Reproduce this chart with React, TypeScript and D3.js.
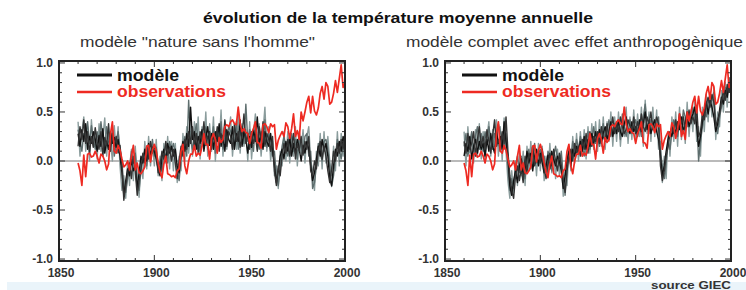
import React from "react";
import * as d3 from "d3";

const START_YEAR = 1860;

const title = "évolution de la température moyenne annuelle";
const panelTitles = ["modèle \"nature sans l'homme\"", "modèle complet avec effet anthropogènique"];
const legendLabels = ["modèle", "observations"];
const sourceLabel = "source  GIEC";
const xTicks = [1850, 1900, 1950, 2000];
const yTicks = [-1.0, -0.5, 0.0, 0.5, 1.0];

// observed anomalies, 1860..2000
const observations = [
  -0.02, -0.10, -0.25, 0.06, -0.16, 0.07, 0.08, 0.04, 0.05, 0.10,
  0.05, -0.02, 0.07, 0.05, 0.00, -0.09, -0.03, 0.28, 0.40, 0.10,
  0.08, 0.16, 0.11, 0.02, -0.06, -0.04, 0.00, -0.09, 0.05, 0.16,
  -0.09, -0.02, -0.12, -0.13, -0.10, -0.06, 0.15, 0.16, -0.01, 0.11,
  0.17, 0.10, -0.02, -0.11, -0.17, -0.03, 0.05, -0.13, -0.14, -0.16,
  -0.15, -0.17, -0.10, -0.08, 0.10, 0.17, -0.05, -0.13, 0.00, 0.07,
  0.07, 0.16, 0.05, 0.08, 0.06, 0.15, 0.28, 0.17, 0.17, 0.02,
  0.23, 0.28, 0.22, 0.08, 0.24, 0.19, 0.22, 0.35, 0.37, 0.35,
  0.40, 0.42, 0.38, 0.37, 0.55, 0.38, 0.30, 0.33, 0.29, 0.28,
  0.18, 0.28, 0.33, 0.40, 0.19, 0.18, 0.13, 0.37, 0.38, 0.35,
  0.29, 0.38, 0.35, 0.37, 0.12, 0.21, 0.26, 0.30, 0.25, 0.39,
  0.35, 0.23, 0.33, 0.48, 0.25, 0.31, 0.22, 0.50, 0.41, 0.50,
  0.60, 0.66, 0.49, 0.66, 0.51, 0.47, 0.54, 0.69, 0.76, 0.63,
  0.80, 0.76, 0.58, 0.60, 0.69, 0.82, 0.70, 0.84, 0.98, 0.75,
  0.80,
];

// natural-forcing-only model runs
const naturalRunA = [
  0.28, 0.15, 0.32, 0.20, 0.38, 0.12, 0.25, 0.18, 0.30, 0.22,
  0.10, 0.26, 0.15, 0.33, 0.08, 0.20, 0.12, 0.29, 0.18, 0.24,
  0.14, 0.22, 0.05, -0.12, -0.35, -0.20, -0.08, -0.15, 0.02, -0.10,
  -0.05, -0.28, -0.12, 0.05, -0.02, 0.12, 0.00, 0.18, 0.06, 0.14,
  0.10, 0.02, -0.08, -0.15, 0.04, 0.12, 0.00, 0.18, 0.08, 0.15,
  0.05, 0.12, -0.05, -0.12, 0.08, 0.20, 0.10, 0.28, 0.15, 0.55,
  0.22, 0.30, 0.12, 0.25, 0.18, 0.32, 0.10, 0.24, 0.35, 0.16,
  0.28, 0.12, 0.30, 0.20, 0.38, 0.15, 0.26, 0.10, 0.32, 0.22,
  0.18, 0.35, 0.12, 0.28, 0.20, 0.42, 0.15, 0.30, 0.22, 0.08,
  0.25, 0.14, 0.32, 0.20, 0.45, 0.18, 0.26, 0.12, 0.30, 0.20,
  0.15, 0.28, 0.10, -0.05, -0.22, -0.10, 0.05, 0.12, 0.02, 0.20,
  0.10, 0.25, 0.05, 0.18, 0.08, 0.22, 0.12, 0.00, 0.16, 0.08,
  0.20, 0.12, -0.05, -0.20, -0.12, 0.02, 0.15, 0.05, 0.22, 0.10,
  0.18, 0.05, -0.18, -0.25, -0.05, 0.12, 0.05, 0.20, 0.10, 0.25,
  0.15,
];
const naturalRunB = [
  0.15, 0.35, 0.22, 0.42, 0.18, 0.30, 0.08, 0.25, 0.14, 0.34,
  0.20, 0.12, 0.30, 0.05, 0.24, 0.16, 0.38, 0.10, 0.28, 0.15,
  0.25, 0.08, 0.16, -0.05, -0.40, -0.25, -0.12, -0.02, -0.18, 0.05,
  -0.10, -0.35, -0.20, -0.08, 0.08, -0.02, 0.15, 0.02, 0.20, 0.08,
  0.16, 0.05, -0.12, -0.05, 0.10, 0.02, 0.20, 0.06, 0.14, 0.00,
  0.12, -0.02, -0.18, 0.00, 0.15, 0.05, 0.22, 0.12, 0.30, 0.18,
  0.35, 0.15, 0.28, 0.08, 0.30, 0.20, 0.40, 0.16, 0.25, 0.30,
  0.12, 0.26, 0.18, 0.35, 0.10, 0.28, 0.20, 0.42, 0.15, 0.30,
  0.25, 0.12, 0.38, 0.20, 0.30, 0.14, 0.26, 0.48, 0.18, 0.28,
  0.12, 0.30, 0.18, 0.26, 0.10, 0.35, 0.22, 0.40, 0.15, 0.28,
  0.22, 0.10, 0.25, -0.10, -0.25, -0.05, -0.15, 0.05, 0.18, 0.08,
  0.22, 0.05, 0.15, 0.28, 0.02, 0.18, 0.10, 0.25, 0.06, 0.20,
  0.12, 0.25, -0.10, -0.15, 0.00, -0.08, 0.10, 0.20, 0.02, 0.15,
  0.05, -0.10, -0.22, -0.08, 0.10, 0.00, 0.18, 0.08, 0.22, 0.12,
  0.28,
];
const naturalRunC = [
  0.32, 0.20, 0.10, 0.28, 0.25, 0.40, 0.18, 0.36, 0.22, 0.12,
  0.30, 0.18, 0.40, 0.22, 0.12, 0.35, 0.20, 0.15, 0.32, 0.05,
  0.18, 0.30, 0.12, 0.00, -0.28, -0.32, -0.18, -0.05, 0.10, -0.02,
  0.08, -0.20, -0.30, -0.10, 0.02, 0.10, -0.05, 0.12, 0.00, 0.22,
  0.05, 0.14, -0.05, 0.00, -0.10, 0.08, 0.16, -0.02, 0.20, 0.10,
  0.18, 0.08, -0.10, -0.20, 0.02, 0.12, 0.25, 0.05, 0.62, 0.22,
  0.12, 0.25, 0.38, 0.18, 0.10, 0.28, 0.22, 0.35, 0.12, 0.26,
  0.20, 0.35, 0.08, 0.26, 0.22, 0.40, 0.12, 0.28, 0.18, 0.36,
  0.30, 0.22, 0.15, 0.40, 0.12, 0.26, 0.35, 0.18, 0.58, 0.20,
  0.32, 0.22, 0.10, 0.38, 0.25, 0.12, 0.30, 0.20, 0.42, 0.14,
  0.28, 0.18, 0.05, 0.10, -0.15, -0.25, -0.08, 0.15, 0.25, 0.12,
  0.05, 0.18, 0.28, 0.10, 0.22, 0.02, 0.30, 0.15, 0.08, 0.25,
  0.28, 0.05, 0.10, -0.28, -0.22, -0.05, 0.18, 0.08, 0.00, 0.20,
  0.22, 0.12, -0.05, -0.26, -0.15, 0.05, 0.22, 0.12, 0.02, 0.18,
  0.20,
];
const naturalRunD = [
  0.40, 0.05, 0.30, 0.45, 0.10, 0.35, 0.00, 0.42, 0.15, 0.30,
  0.02, 0.38, 0.10, 0.25, 0.44, 0.05, 0.30, 0.20, 0.00, 0.36,
  0.10, 0.35, -0.05, -0.30, -0.15, -0.38, 0.00, -0.25, 0.12, -0.20,
  0.15, -0.15, -0.37, 0.00, -0.18, 0.20, -0.08, 0.25, -0.05, 0.18,
  -0.05, 0.22, -0.15, 0.05, -0.20, 0.18, -0.02, 0.25, -0.08, 0.20,
  -0.10, 0.18, -0.22, 0.05, -0.10, 0.28, 0.00, 0.35, 0.08, 0.30,
  0.05, 0.40, 0.15, 0.45, 0.02, 0.35, 0.18, 0.50, 0.05, 0.38,
  0.10, 0.45, 0.00, 0.30, 0.15, 0.52, 0.05, 0.40, 0.12, 0.28,
  0.45, 0.05, 0.30, 0.12, 0.50, 0.08, 0.38, 0.15, 0.32, 0.00,
  0.40, 0.02, 0.28, 0.48, 0.12, 0.38, 0.05, 0.30, 0.55, 0.10,
  0.35, 0.00, 0.20, -0.15, -0.05, -0.28, 0.10, -0.05, 0.30, 0.00,
  0.30, -0.02, 0.25, 0.05, 0.35, -0.05, 0.22, 0.08, 0.32, -0.02,
  0.25, 0.35, 0.00, -0.10, -0.30, 0.10, -0.05, 0.28, -0.08, 0.30,
  -0.02, 0.25, 0.00, -0.15, 0.15, -0.10, 0.30, -0.05, 0.28, 0.05,
  0.30,
];

// natural + anthropogenic model runs
const fullRunA = [
  0.05, 0.18, 0.10, 0.25, 0.02, 0.15, 0.22, 0.08, 0.20, 0.12,
  0.18, 0.05, 0.22, 0.10, 0.28, 0.15, 0.08, 0.30, 0.18, 0.25,
  0.12, 0.40, 0.20, 0.05, -0.25, -0.35, -0.20, -0.10, -0.22, -0.05,
  0.02, -0.15, -0.08, 0.10, -0.02, 0.08, -0.10, 0.05, 0.12, -0.05,
  0.08, -0.02, -0.12, -0.05, 0.06, -0.08, 0.10, 0.02, -0.05, 0.05,
  0.00, -0.10, -0.28, -0.15, 0.02, 0.10, -0.05, 0.12, 0.05, 0.15,
  0.08, 0.20, 0.10, 0.25, 0.12, 0.22, 0.15, 0.28, 0.18, 0.30,
  0.20, 0.32, 0.18, 0.28, 0.35, 0.22, 0.30, 0.40, 0.25, 0.35,
  0.28, 0.42, 0.30, 0.25, 0.38, 0.45, 0.32, 0.28, 0.40, 0.30,
  0.35, 0.25, 0.42, 0.30, 0.38, 0.50, 0.32, 0.40, 0.28, 0.36,
  0.42, 0.30, 0.22, 0.05, -0.15, -0.05, 0.10, 0.22, 0.30, 0.25,
  0.35, 0.28, 0.40, 0.32, 0.45, 0.30, 0.38, 0.50, 0.35, 0.42,
  0.48, 0.55, 0.35, 0.15, 0.25, 0.40, 0.52, 0.60, 0.48, 0.62,
  0.55, 0.45, 0.30, 0.38, 0.52, 0.65, 0.58, 0.72, 0.65, 0.80,
  0.75,
];
const fullRunB = [
  0.20, 0.08, 0.28, 0.12, 0.18, 0.30, 0.05, 0.22, 0.35, 0.15,
  0.25, 0.12, 0.32, 0.20, 0.08, 0.26, 0.42, 0.15, 0.22, 0.10,
  0.30, 0.18, 0.45, 0.10, -0.15, -0.30, -0.38, -0.15, -0.05, -0.20,
  -0.08, -0.22, 0.05, -0.12, 0.08, 0.00, 0.15, -0.05, 0.02, 0.10,
  -0.02, 0.12, -0.08, -0.18, -0.02, 0.08, -0.05, 0.12, 0.00, -0.10,
  0.08, -0.05, -0.20, -0.32, -0.10, 0.05, 0.12, 0.00, 0.18, 0.08,
  0.15, 0.05, 0.22, 0.12, 0.28, 0.08, 0.30, 0.15, 0.25, 0.20,
  0.30, 0.18, 0.35, 0.25, 0.20, 0.38, 0.22, 0.32, 0.45, 0.28,
  0.38, 0.30, 0.45, 0.35, 0.28, 0.32, 0.42, 0.36, 0.30, 0.45,
  0.28, 0.40, 0.32, 0.48, 0.35, 0.30, 0.45, 0.38, 0.50, 0.32,
  0.35, 0.45, 0.38, -0.05, -0.20, -0.10, 0.05, 0.15, 0.28, 0.35,
  0.28, 0.42, 0.30, 0.48, 0.38, 0.45, 0.32, 0.40, 0.52, 0.38,
  0.45, 0.38, 0.55, 0.25, 0.30, 0.48, 0.42, 0.58, 0.65, 0.55,
  0.68, 0.60, 0.35, 0.42, 0.48, 0.60, 0.72, 0.62, 0.78, 0.70,
  0.82,
];
const fullRunC = [
  0.15, 0.28, 0.05, 0.18, 0.30, 0.10, 0.25, 0.35, 0.12, 0.28,
  0.10, 0.30, 0.18, 0.35, 0.22, 0.12, 0.28, 0.20, 0.38, 0.30,
  0.22, 0.12, 0.28, -0.05, -0.30, -0.18, -0.28, -0.05, 0.05, -0.12,
  0.05, -0.05, -0.18, 0.02, 0.12, -0.08, 0.05, 0.18, -0.02, 0.08,
  0.12, 0.00, 0.05, -0.12, 0.10, 0.02, -0.10, 0.05, 0.15, 0.02,
  -0.05, 0.10, -0.15, -0.35, -0.05, 0.15, 0.02, 0.20, 0.10, 0.22,
  0.12, 0.25, 0.15, 0.05, 0.20, 0.30, 0.12, 0.22, 0.35, 0.18,
  0.25, 0.15, 0.28, 0.38, 0.20, 0.30, 0.42, 0.25, 0.32, 0.38,
  0.32, 0.40, 0.22, 0.48, 0.35, 0.25, 0.38, 0.42, 0.28, 0.36,
  0.42, 0.30, 0.38, 0.25, 0.45, 0.58, 0.35, 0.28, 0.42, 0.40,
  0.30, 0.38, 0.45, 0.10, -0.05, -0.18, -0.02, 0.20, 0.12, 0.30,
  0.42, 0.35, 0.25, 0.40, 0.30, 0.52, 0.45, 0.35, 0.48, 0.40,
  0.55, 0.42, 0.48, 0.00, 0.20, 0.35, 0.50, 0.45, 0.62, 0.58,
  0.62, 0.70, 0.40, 0.28, 0.45, 0.55, 0.65, 0.75, 0.68, 0.85,
  0.78,
];
const fullRunD = [
  0.30, -0.05, 0.35, 0.08, 0.28, -0.02, 0.32, 0.05, 0.38, 0.02,
  0.30, 0.00, 0.25, 0.40, 0.05, 0.32, 0.15, 0.42, 0.05, 0.35,
  0.00, 0.44, 0.10, -0.20, -0.38, -0.10, -0.32, 0.00, -0.25, 0.08,
  -0.15, 0.10, -0.25, 0.15, -0.10, 0.20, -0.05, 0.12, -0.15, 0.18,
  -0.10, 0.15, -0.20, 0.05, -0.15, 0.18, -0.12, 0.08, -0.18, 0.12,
  -0.15, 0.05, -0.36, -0.08, -0.25, 0.12, -0.10, 0.25, -0.02, 0.28,
  0.00, 0.30, 0.05, 0.32, 0.02, 0.35, 0.08, 0.38, 0.12, 0.40,
  0.10, 0.42, 0.15, 0.45, 0.12, 0.40, 0.20, 0.50, 0.15, 0.45,
  0.20, 0.50, 0.15, 0.42, 0.25, 0.55, 0.18, 0.45, 0.22, 0.52,
  0.20, 0.48, 0.25, 0.55, 0.15, 0.62, 0.28, 0.50, 0.20, 0.55,
  0.25, 0.52, 0.12, 0.20, -0.22, 0.05, -0.18, 0.30, 0.05, 0.45,
  0.20, 0.50, 0.15, 0.55, 0.22, 0.48, 0.18, 0.60, 0.25, 0.52,
  0.30, 0.62, 0.20, 0.35, 0.05, 0.55, 0.30, 0.68, 0.40, 0.70,
  0.45, 0.75, 0.22, 0.50, 0.35, 0.72, 0.50, 0.80, 0.55, 0.85,
  0.68,
];

const naturalRuns = [naturalRunD, naturalRunC, naturalRunA, naturalRunB];
const fullRuns = [fullRunD, fullRunC, fullRunA, fullRunB];
const runColors = ["#8a9c9c", "#5e6e6e", "#111", "#333"];
const RED = "#ee2a22";
const FONT = "Liberation Sans, Arial, Helvetica, sans-serif";

type PanelProps = {
  x0: number;
  x1: number;
  runs: number[][];
  subtitle: string;
  subtitleX: number;
  subtitleW: number;
  legendX: number;
};

const Y_TOP = 61;
const Y_BOT = 261;

function Panel({ x0, x1, runs, subtitle, subtitleX, subtitleW, legendX }: PanelProps) {
  const x = d3.scaleLinear().domain([1850, 2000]).range([x0, x1]);
  const y = d3.scaleLinear().domain([-1.02, 1.02]).range([Y_BOT, Y_TOP]);
  const line = d3
    .line<number>()
    .x((_, i) => x(START_YEAR + i))
    .y((v) => y(v));
  const minorY = d3.range(-10, 11).map((k) => k / 10);
  const minorX = d3.range(1850, 2001, 10);
  return (
    <g>
      <text
        x={subtitleX}
        y={47}
        fontFamily={FONT}
        fontSize={14}
        fill="#333"
        textLength={subtitleW}
        lengthAdjust="spacingAndGlyphs"
      >
        {subtitle}
      </text>
      <line x1={x0} x2={x1} y1={y(0)} y2={y(0)} stroke="#777" strokeWidth={1.2} />
      {runs.map((r, i) => (
        <path key={i} d={line(r) || ""} fill="none" stroke={runColors[i]} strokeWidth={1.4} strokeLinejoin="round" />
      ))}
      <path d={line(observations) || ""} fill="none" stroke={RED} strokeWidth={1.7} strokeLinejoin="round" />
      {minorY.map((v) => {
        const major = Math.abs(v * 2 - Math.round(v * 2)) < 1e-6;
        const len = major ? 6 : 3;
        return (
          <g key={"y" + v}>
            <line x1={x0} x2={x0 + len} y1={y(v)} y2={y(v)} stroke="#333" strokeWidth={1} />
            <line x1={x1} x2={x1 - len} y1={y(v)} y2={y(v)} stroke="#333" strokeWidth={1} />
          </g>
        );
      })}
      {minorX.map((v) => {
        const major = v % 50 === 0;
        const len = major ? 6 : 3;
        return (
          <g key={"x" + v}>
            <line x1={x(v)} x2={x(v)} y1={Y_TOP} y2={Y_TOP + len} stroke="#333" strokeWidth={1} />
            <line x1={x(v)} x2={x(v)} y1={Y_BOT} y2={Y_BOT - len} stroke="#333" strokeWidth={1} />
          </g>
        );
      })}
      <rect x={x0} y={Y_TOP} width={x1 - x0} height={Y_BOT - Y_TOP} fill="none" stroke="#222" strokeWidth={2} />
      {yTicks.map((v) => (
        <text
          key={"yl" + v}
          x={x0 - 6}
          y={y(v)}
          dy="0.35em"
          textAnchor="end"
          fontFamily={FONT}
          fontWeight="bold"
          fontSize={12}
          fill="#333"
        >
          {v.toFixed(1)}
        </text>
      ))}
      {xTicks.map((v) => (
        <text
          key={"xl" + v}
          x={x(v) + 2}
          y={Y_BOT + 12}
          dy="0.35em"
          textAnchor="middle"
          fontFamily={FONT}
          fontWeight="bold"
          fontSize={12}
          fill="#333"
        >
          {v}
        </text>
      ))}
      <line x1={legendX} x2={legendX + 35} y1={75} y2={75} stroke="#111" strokeWidth={3} />
      <line x1={legendX} x2={legendX + 35} y1={92} y2={92} stroke={RED} strokeWidth={2.5} />
      <text
        x={legendX + 40}
        y={75}
        dy="0.35em"
        fontFamily={FONT}
        fontWeight="bold"
        fontSize={16}
        fill="#111"
        textLength={62}
        lengthAdjust="spacingAndGlyphs"
      >
        {legendLabels[0]}
      </text>
      <text
        x={legendX + 40}
        y={91}
        dy="0.35em"
        fontFamily={FONT}
        fontWeight="bold"
        fontSize={16}
        fill={RED}
        textLength={109}
        lengthAdjust="spacingAndGlyphs"
      >
        {legendLabels[1]}
      </text>
    </g>
  );
}

export default function App() {
  return (
    <svg
      width={746}
      height={290}
      style={{ position: "absolute", left: 0, top: 0, background: "#fff" }}
    >
      <rect x={0} y={0} width={746} height={290} fill="#fff" />
      <rect x={7} y={282} width={739} height={8} fill="#eaf4fa" />
      <text
        x={203}
        y={23}
        fontFamily={FONT}
        fontWeight="bold"
        fontSize={15}
        fill="#111"
        textLength={390}
        lengthAdjust="spacingAndGlyphs"
      >
        {title}
      </text>
      <Panel
        x0={59}
        x1={345}
        runs={naturalRuns}
        subtitle={panelTitles[0]}
        subtitleX={80}
        subtitleW={235}
        legendX={77}
      />
      <Panel
        x0={445}
        x1={731}
        runs={fullRuns}
        subtitle={panelTitles[1]}
        subtitleX={406}
        subtitleW={337}
        legendX={462}
      />
      <text
        x={651}
        y={289}
        fontFamily={FONT}
        fontWeight="bold"
        fontSize={10}
        fill="#333"
        textLength={80}
        lengthAdjust="spacingAndGlyphs"
      >
        {sourceLabel}
      </text>
    </svg>
  );
}
